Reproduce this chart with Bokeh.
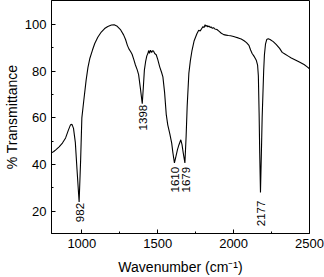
import math
from bokeh.plotting import figure
from bokeh.models import FixedTicker, Range1d, ColumnDataSource
from bokeh.core.properties import value
from bokeh.embed import file_html
from bokeh.resources import INLINE

# FTIR spectrum
wavenumber = [800, 815, 830, 850, 872, 893, 910, 925, 935, 945, 957, 968, 982, 992,
              1000, 1012, 1028, 1040, 1053, 1070, 1085, 1105, 1128, 1150, 1171, 1195,
              1213, 1230, 1256, 1275, 1288, 1300, 1310, 1322, 1331, 1342, 1353, 1365,
              1374, 1385, 1398, 1405, 1412, 1420, 1428, 1435, 1440, 1446, 1452, 1460,
              1466, 1472, 1480, 1490, 1500, 1513, 1525, 1534, 1545, 1556, 1566, 1580,
              1592, 1600, 1610, 1620, 1630, 1640, 1652, 1660, 1668, 1679, 1687, 1694,
              1705, 1715, 1726, 1740, 1758, 1770, 1780, 1790, 1798, 1805, 1812, 1818,
              1824, 1830, 1838, 1845, 1852, 1860, 1868, 1876, 1890, 1905, 1919, 1935,
              1950, 1965, 1980, 2000, 2015, 2030, 2050, 2069, 2085, 2101, 2112, 2122,
              2133, 2143, 2150, 2158, 2163, 2168, 2172, 2177, 2183, 2188, 2193, 2198,
              2203, 2210, 2218, 2228, 2240, 2261, 2280, 2303, 2320, 2335, 2360, 2380,
              2400, 2430, 2464, 2485, 2500]
transmittance = [45.0, 45.6, 46.4, 47.6, 49.2, 51.4, 54.5, 57.0, 57.2, 55.5, 49.5, 38.0, 24.0, 42.0,
                 60.0, 67.0, 76.0, 81.5, 85.5, 89.0, 91.8, 94.5, 96.7, 98.2, 99.1, 99.7,
                 99.8, 99.3, 97.6, 95.5, 93.5, 91.0, 89.5, 88.3, 87.2, 85.0, 82.6, 80.5,
                 78.5, 73.0, 66.0, 73.0, 80.4, 84.0, 86.5, 87.5, 88.8, 87.6, 88.9, 88.0,
                 88.7, 88.6, 87.5, 87.0, 85.0, 81.8, 79.5, 77.5, 71.0, 61.5, 57.0, 53.0,
                 49.2, 45.0, 40.7, 43.5, 46.4, 48.5, 50.6, 48.5, 45.0, 40.7, 52.0, 65.0,
                 79.0, 84.5, 88.9, 93.0, 96.0, 97.5, 97.2, 98.2, 99.0, 98.6, 99.8, 99.1,
                 99.6, 98.9, 99.3, 98.7, 98.9, 98.3, 98.6, 98.0, 97.8, 97.0, 96.2, 95.6,
                 95.4, 95.2, 95.1, 94.8, 94.5, 94.2, 93.7, 93.0, 92.2, 91.0, 89.0, 87.5,
                 86.5, 85.4, 84.5, 82.5, 78.0, 62.0, 45.0, 28.0, 45.0, 60.0, 70.0, 80.0,
                 87.0, 91.5, 93.5, 93.8, 93.5, 92.6, 91.4, 89.7, 88.0, 87.4, 86.4, 85.6,
                 85.0, 84.0, 82.8, 81.8, 81.0]

peak_labels = ["982", "1398", "1610", "1679", "2177"]
peak_x = [982, 1398, 1610, 1679, 2177]

x_ticks = [1000, 1500, 2000, 2500]
x_minor = [1250, 1750, 2250]
y_ticks = [20, 40, 60, 80, 100]
y_minor = [30, 50, 70, 90]

x_title = "Wavenumber (cm\u207b\u00b9)"
y_title = "% Transmittance"

FONT = "Liberation Sans"

p = figure(width=324, height=277, output_backend="svg", toolbar_location=None,
           x_range=Range1d(800, 2500), y_range=Range1d(10.5, 110.2),
           min_border_left=43, min_border_right=15, min_border_top=0, min_border_bottom=43)
p.background_fill_color = "white"
p.border_fill_color = "white"
p.outline_line_color = "black"
p.outline_line_width = 1
p.grid.visible = False

p.line(wavenumber, transmittance, line_color="black", line_width=1.1)

# peak labels below each minimum
label_y = [transmittance[wavenumber.index(x)] for x in peak_x]
src = ColumnDataSource(dict(x=peak_x, y=label_y, t=peak_labels,
                            yo=[1, 1, 4, 4, 8]))
p.text(x="x", y="y", text="t", source=src, angle=math.pi / 2,
       text_align="right", text_baseline="middle", x_offset=1, y_offset="yo",
       text_font=value(FONT), text_font_size="11.5px", text_color="black")

for ax in (p.xaxis[0], p.yaxis[0]):
    ax.major_tick_in = 4
    ax.major_tick_out = 0
    ax.minor_tick_in = 2
    ax.minor_tick_out = 0
    ax.axis_line_color = "black"
    ax.major_tick_line_color = "black"
    ax.minor_tick_line_color = "black"
    ax.major_label_text_font = FONT
    ax.major_label_text_font_size = "13px"
    ax.major_label_text_color = "black"
    ax.axis_label_text_font = FONT
    ax.axis_label_text_font_size = "14px"
    ax.axis_label_text_font_style = "normal"
    ax.axis_label_text_color = "black"

p.xaxis.ticker = FixedTicker(ticks=x_ticks, minor_ticks=x_minor)
p.yaxis.ticker = FixedTicker(ticks=y_ticks, minor_ticks=y_minor)
p.xaxis.axis_label = x_title
p.yaxis.axis_label = y_title
p.xaxis.major_label_standoff = 5
p.xaxis.axis_label_standoff = 8
p.yaxis.major_label_standoff = 5
p.yaxis.axis_label_standoff = 2

open("out.html", "w").write(file_html(p, INLINE))
